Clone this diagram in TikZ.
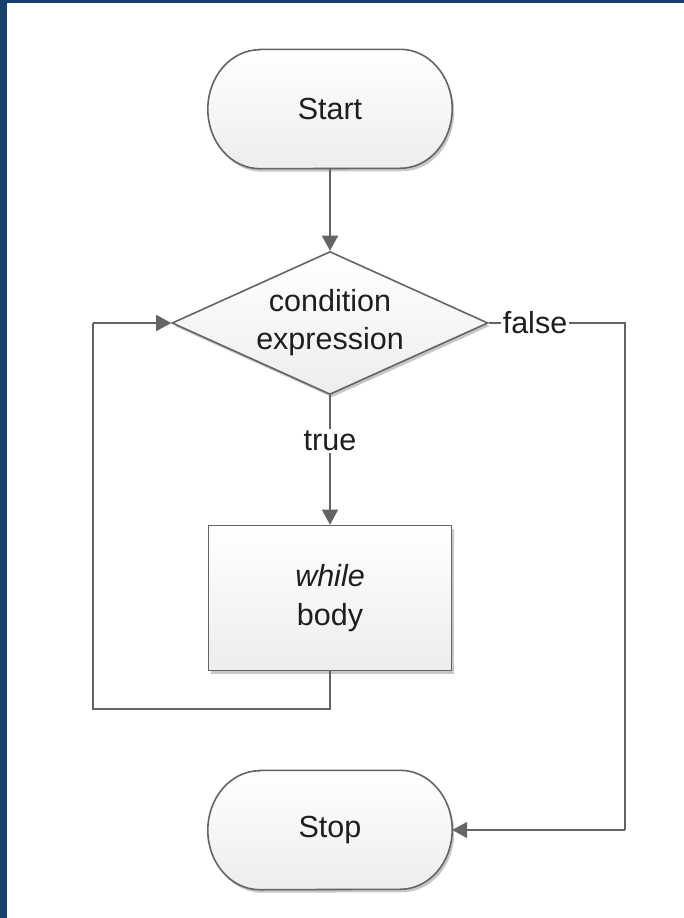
\documentclass[tikz,border=0pt]{standalone}
\usepackage{fontspec}
\setmainfont{Liberation Sans}
\usetikzlibrary{shapes.geometric,arrows.meta,shadows,backgrounds}
\definecolor{frameblue}{RGB}{24,64,110}
\definecolor{edgegray}{RGB}{100,100,100}
\definecolor{txt}{RGB}{30,30,30}
\begin{document}
\begin{tikzpicture}[x=1pt,y=-1pt,
  every node/.style={font=\fontsize{30.5}{38}\selectfont, text=txt},
  boxstyle/.style={draw=edgegray, line width=1.6pt, top color=white, bottom color=black!7,
    drop shadow={shadow xshift=2pt, shadow yshift=-3pt, opacity=0.22, fill=black}},
  terminal/.style={rectangle, minimum width=244pt, minimum height=119pt},
  decision/.style={boxstyle, diamond, shape aspect=2.2, minimum width=316pt, minimum height=143pt, inner sep=0pt, align=center},
  process/.style={boxstyle, rectangle, minimum width=243pt, minimum height=145pt, align=center},
  flow/.style={draw=edgegray, line width=1.6pt, -{Triangle[length=15pt,width=16pt]}},
  plain/.style={draw=edgegray, line width=1.6pt},
  tag/.style={fill=white, inner sep=2pt}
]
\useasboundingbox (0,0) rectangle (684,918);
\begin{scope}[on background layer]
  \fill[white] (0,0) rectangle (684,918);
  % dark frame strips at the left and top edges
  \fill[frameblue] (0,0) rectangle (7,918);
  \fill[frameblue] (0,0) rectangle (684,3);
\end{scope}

\node[terminal] (start) at (330,109) {Start};
\node[decision] (cond) at (330,323) {condition\\expression};
\node[process] (body) at (330,598) {\textit{while}\\[1pt]body};
\node[terminal] (stop) at (330,830) {Stop};

% terminal outlines with elliptical ends, behind their labels
\begin{scope}[on background layer]
  \foreach \t in {start,stop}{
    \path[boxstyle] ([xshift=52pt]\t.north west) -- ([xshift=-52pt]\t.north east)
      arc[start angle=90, end angle=-90, x radius=52pt, y radius=59.5pt]
      -- ([xshift=52pt]\t.south west)
      arc[start angle=270, end angle=90, x radius=52pt, y radius=59.5pt] -- cycle;
  }
\end{scope}

\coordinate (loopA) at (330,709);
\coordinate (loopB) at (93,709);
\coordinate (loopC) at (93,323);
\coordinate (exitA) at (625,323);
\coordinate (exitB) at (625,830);

\draw[flow] (start.south) -- (cond.north);
\draw[flow] (cond.south) -- (body.north);
\draw[plain] (body.south) -- (loopA) -- (loopB) -- (loopC);
\draw[flow] (loopC) -- (cond.west);
\draw[plain] (cond.east) -- (exitA) -- (exitB);
\draw[flow] (exitB) -- (stop.east);

\node[tag] (truelbl) at (330,441) {true};
\node[tag] (falselbl) at (535,323) {false};
\end{tikzpicture}
\end{document}
